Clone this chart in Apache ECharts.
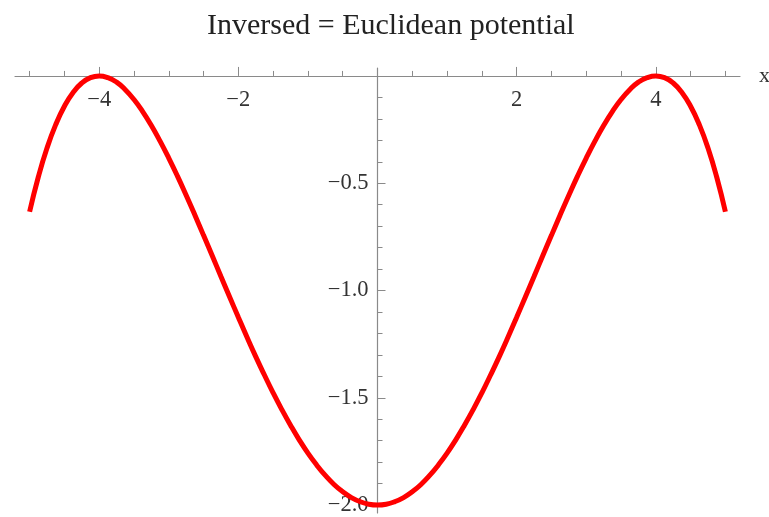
<!DOCTYPE html>
<html>
<head>
<meta charset="utf-8">
<script src="https://cdn.jsdelivr.net/npm/echarts@6/dist/echarts.min.js"></script>
<style>
  html, body { margin: 0; padding: 0; background: #fff; }
  #chart { width: 769px; height: 517px; }
</style>
</head>
<body>
<div id="chart"></div>
<script>
// Sampled curve of the inverted (Euclidean) potential
const xs = [-5, -4.875, -4.75, -4.625, -4.5, -4.375, -4.25, -4.125, -4, -3.875, -3.75, -3.625, -3.5, -3.375, -3.25, -3.125,
            -3, -2.875, -2.75, -2.625, -2.5, -2.375, -2.25, -2.125, -2, -1.875, -1.75, -1.625, -1.5, -1.375, -1.25, -1.125,
            -1, -0.875, -0.75, -0.625, -0.5, -0.375, -0.25, -0.125,
            0, 0.125, 0.25, 0.375, 0.5, 0.625, 0.75, 0.875, 1, 1.125, 1.25, 1.375, 1.5, 1.625, 1.75, 1.875,
            2, 2.125, 2.25, 2.375, 2.5, 2.625, 2.75, 2.875, 3, 3.125, 3.25, 3.375, 3.5, 3.625, 3.75, 3.875,
            4, 4.125, 4.25, 4.375, 4.5, 4.625, 4.75, 4.875, 5];
const ys = [-0.633, -0.471, -0.336, -0.227, -0.141, -0.077, -0.033, -0.008, 0, -0.008, -0.029, -0.064, -0.110, -0.166, -0.231, -0.304,
            -0.383, -0.467, -0.556, -0.648, -0.743, -0.838, -0.935, -1.030, -1.125, -1.218, -1.308, -1.394, -1.477, -1.555, -1.628, -1.696,
            -1.758, -1.813, -1.862, -1.904, -1.938, -1.965, -1.984, -1.996,
            -2, -1.996, -1.984, -1.965, -1.938, -1.904, -1.862, -1.813, -1.758, -1.696, -1.628, -1.555, -1.477, -1.394, -1.308, -1.218,
            -1.125, -1.030, -0.935, -0.838, -0.743, -0.648, -0.556, -0.467, -0.383, -0.304, -0.231, -0.166, -0.110, -0.064, -0.029, -0.008,
            0, -0.008, -0.033, -0.077, -0.141, -0.227, -0.336, -0.471, -0.633];

// Tick positions
const xMajorTicks = [-4, -2, 2, 4];
const xMinorTicks = [-5, -4.5, -3.5, -3, -2.5, -1.5, -1, -0.5, 0.5, 1, 1.5, 2.5, 3, 3.5, 4.5, 5];
const yMajorTicks = [-2, -1.5, -1, -0.5];
const yMinorTicks = [-1.9, -1.8, -1.7, -1.6, -1.4, -1.3, -1.2, -1.1, -0.9, -0.8, -0.7, -0.6, -0.4, -0.3, -0.2, -0.1];

const X_MIN = -5.21, X_MAX = 5.21, Y_MIN = -2.037, Y_MAX = 0.037;
const FONT = '"Liberation Serif", "DejaVu Serif", serif';
const AXIS_COLOR = '#8a8a8a';
const LABEL_COLOR = '#333';
const minus = v => String(v).replace('-', '\u2212');
const fmt1 = v => minus(Number(v).toFixed(1));

const chart = echarts.init(document.getElementById('chart'), null, { renderer: 'canvas' });

// Plot area (grid 0), the strip above y = 0 whose lower edge carries the x axis (grid 1),
// and the part right of x = 0 whose left edge carries the y axis (grid 2).
const PLOT = { left: 15, top: 68, width: 725, height: 445 };
const yZeroPx = PLOT.height * Y_MAX / (Y_MAX - Y_MIN);
const xZeroPx = PLOT.width * (0 - X_MIN) / (X_MAX - X_MIN);

const hidden = { show: false };
const xBase = (gridIndex) => ({
  type: 'value', gridIndex, min: X_MIN, max: X_MAX, position: 'bottom',
  splitLine: hidden, axisLine: { onZero: false, lineStyle: { color: AXIS_COLOR, width: 1.2 } }
});
const yBase = (gridIndex) => ({
  type: 'value', gridIndex, min: Y_MIN, max: Y_MAX, position: 'left',
  splitLine: hidden, axisLine: { onZero: false, lineStyle: { color: AXIS_COLOR, width: 1.2 } }
});
const tickStyle = { color: AXIS_COLOR, width: 1 };

chart.setOption({
  animation: false,
  backgroundColor: '#fff',
  title: {
    text: 'Inversed = Euclidean potential',
    left: 202, top: 6,
    textStyle: { fontFamily: FONT, fontSize: 30, fontWeight: 'normal', color: '#222' }
  },
  grid: [
    Object.assign({ outerBoundsMode: 'none' }, PLOT),
    { outerBoundsMode: 'none', left: PLOT.left, top: PLOT.top, width: PLOT.width, height: yZeroPx },
    { outerBoundsMode: 'none', left: PLOT.left + xZeroPx, top: PLOT.top, width: PLOT.width - xZeroPx, height: PLOT.height }
  ],
  xAxis: [
    Object.assign(xBase(0), { show: false }),
    Object.assign(xBase(1), {
      name: 'x', nameLocation: 'end', nameGap: 19,
      nameTextStyle: { fontFamily: FONT, fontSize: 22, color: LABEL_COLOR, verticalAlign: 'middle' },
      axisTick: { show: true, inside: true, length: 9, customValues: xMajorTicks, lineStyle: tickStyle },
      axisLabel: { show: true, customValues: xMajorTicks, margin: 13, formatter: v => minus(v),
                   fontFamily: FONT, fontSize: 22.5, color: LABEL_COLOR }
    }),
    Object.assign(xBase(1), {
      axisLine: { show: false, onZero: false },
      axisTick: { show: true, inside: true, length: 5, customValues: xMinorTicks, lineStyle: tickStyle },
      axisLabel: hidden
    }),
    Object.assign(xBase(2), { show: false, min: 0, max: X_MAX })
  ],
  yAxis: [
    Object.assign(yBase(0), { show: false }),
    Object.assign(yBase(2), {
      axisTick: { show: true, inside: true, length: 8, customValues: yMajorTicks, lineStyle: tickStyle },
      axisLabel: { show: true, customValues: yMajorTicks, margin: 9, formatter: fmt1,
                   fontFamily: FONT, fontSize: 22.5, color: LABEL_COLOR, padding: [3, 0, 0, 0] }
    }),
    Object.assign(yBase(2), {
      axisLine: { show: false, onZero: false },
      axisTick: { show: true, inside: true, length: 5, customValues: yMinorTicks, lineStyle: tickStyle },
      axisLabel: hidden
    }),
    Object.assign(yBase(1), { show: false, min: 0, max: Y_MAX })
  ],
  series: [{
    type: 'line',
    xAxisIndex: 0, yAxisIndex: 0,
    data: xs.map((x, i) => [x, ys[i]]),
    smooth: true,
    showSymbol: false,
    lineStyle: { color: '#ff0000', width: 5 },
    z: 5
  }]
});
</script>
</body>
</html>
